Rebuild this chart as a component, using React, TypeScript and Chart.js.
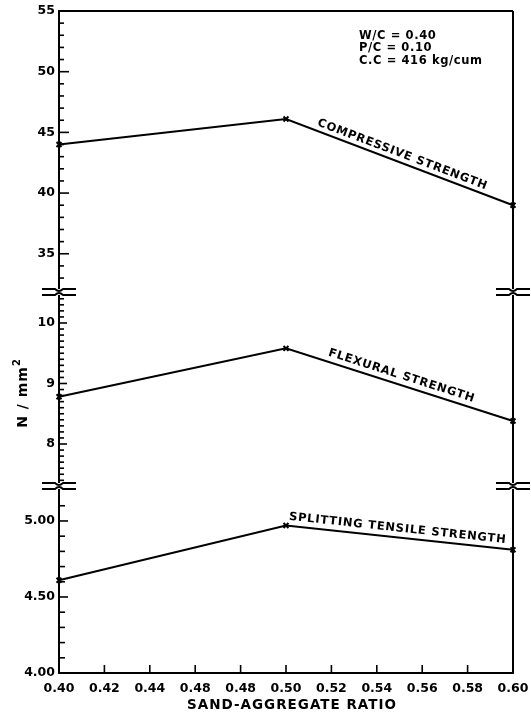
import React, { useEffect, useRef } from "react";
import { Chart, registerables } from "chart.js";

Chart.register(...registerables);

// ---- data ----
const xValues = [0.4, 0.5, 0.6];
const compressive = [44.0, 46.1, 39.0];
const flexural = [8.78, 9.58, 8.38];
const splitting = [4.61, 4.97, 4.81];

const xTickValues = [0.4, 0.42, 0.44, 0.46, 0.48, 0.5, 0.52, 0.54, 0.56, 0.58, 0.6];
const xTickLabels = ["0.40", "0.42", "0.44", "0.48", "0.48", "0.50", "0.52", "0.54", "0.56", "0.58", "0.60"];

const topTickValues = [33, 34, 35, 36, 37, 38, 39, 40, 41, 42, 43, 44, 45, 46, 47, 48, 49, 50, 51, 52, 53, 54, 55];
const topMajor = [35, 40, 45, 50, 55];
const topLabels = ["35", "40", "45", "50", "55"];

const midTickValues = [7.4, 7.5, 7.6, 7.7, 7.8, 7.9, 8.0, 8.1, 8.2, 8.3, 8.4, 8.5, 8.6, 8.7, 8.8, 8.9, 9.0, 9.1, 9.2, 9.3, 9.4, 9.5, 9.6, 9.7, 9.8, 9.9, 10.0, 10.1, 10.2, 10.3, 10.4];
const midMajor = [8, 9, 10];
const midLabels = ["8", "9", "10"];

const botTickValues = [4.0, 4.1, 4.2, 4.3, 4.4, 4.5, 4.6, 4.7, 4.8, 4.9, 5.0, 5.1];
const botMajor = [4.0, 4.5, 5.0];
const botLabels = ["4.00", "4.50", "5.00"];

const noteLines = ["W/C = 0.40", "P/C = 0.10", "C.C = 416 kg/cum"];
const seriesNames = ["COMPRESSIVE STRENGTH", "FLEXURAL STRENGTH", "SPLITTING TENSILE STRENGTH"];
const xTitle = "SAND-AGGREGATE RATIO";

const FONT = "'DejaVu Sans', sans-serif";

const near = (a: number, b: number) => Math.abs(a - b) < 1e-6;
const labelFor = (majors: number[], labels: string[]) => (v: any) => {
  const i = majors.findIndex((m) => near(m, Number(v)));
  return i >= 0 ? labels[i] : "";
};

function yScale(min: number, max: number, ticks: number[], majors: number[], labels: string[], stackWeight: number, weight: number) {
  return {
    type: "linear",
    position: "left",
    stack: "seg",
    stackWeight,
    weight,
    min,
    max,
    afterBuildTicks: (s: any) => {
      s.ticks = ticks.map((v) => ({ value: v }));
    },
    afterFit: (s: any) => {
      s.width = 59;
      s.paddingTop = 0;
      s.paddingBottom = 0;
    },
    grid: { display: true, drawOnChartArea: false, drawTicks: false },
    border: { display: true, color: "#000", width: 2 },
    ticks: {
      autoSkip: false,
      padding: 4,
      color: "#000",
      font: { family: FONT, size: 12.5, weight: "bold" },
      callback: labelFor(majors, labels),
    },
  };
}

const decor = {
  id: "decor",
  afterDraw(chart: any) {
    const ctx = chart.ctx as CanvasRenderingContext2D;
    const { left, right, top, bottom } = chart.chartArea;
    const sx = chart.scales.x;
    const yT = chart.scales.yTop;
    const yM = chart.scales.yMid;
    const yB = chart.scales.yBot;
    const line = (x1: number, y1: number, x2: number, y2: number) => {
      ctx.beginPath();
      ctx.moveTo(x1, y1);
      ctx.lineTo(x2, y2);
      ctx.stroke();
    };
    ctx.save();
    ctx.strokeStyle = "#000";
    ctx.fillStyle = "#000";
    ctx.lineWidth = 2;
    line(left, top, right, top);
    line(right, top, right, bottom);

    // y ticks (inside)
    ctx.lineWidth = 1.6;
    const groups: [any, number[], number, number][] = [
      [yT, topMajor, 10, 5],
      [yM, midMajor, 8, 5],
      [yB, botMajor, 9, 6],
    ];
    for (const [s, majors, ml, nl] of groups) {
      for (const t of s.ticks) {
        const y = s.getPixelForValue(t.value);
        const isMajor = majors.some((m) => near(m, t.value));
        line(left, y, left + (isMajor ? ml : nl), y);
      }
    }
    // x ticks (inside)
    for (const t of sx.ticks) {
      if (t.value <= 0.401 || t.value >= 0.599) continue;
      const x = sx.getPixelForValue(t.value);
      line(x, bottom, x, bottom - 8);
    }

    // axis breaks
    const breaks = [yT.bottom, yM.bottom];
    for (const yb of breaks) {
      for (const xb of [left, right]) {
        ctx.fillStyle = "#fff";
        ctx.fillRect(xb - 3, yb - 3, 6, 6);
        ctx.fillStyle = "#000";
        ctx.lineWidth = 1.8;
        const w = 17;
        ctx.beginPath();
        ctx.moveTo(xb - w, yb - 3);
        ctx.lineTo(xb - 4, yb - 3);
        ctx.quadraticCurveTo(xb, yb + 1, xb + 4, yb - 3);
        ctx.lineTo(xb + w, yb - 3);
        ctx.stroke();
        ctx.beginPath();
        ctx.moveTo(xb - w, yb + 3);
        ctx.lineTo(xb - 4, yb + 3);
        ctx.quadraticCurveTo(xb, yb - 1, xb + 4, yb + 3);
        ctx.lineTo(xb + w, yb + 3);
        ctx.stroke();
      }
    }

    // notes
    ctx.fillStyle = "#000";
    ctx.font = `bold 11.5px ${FONT}`;
    (ctx as any).letterSpacing = "0.6px";
    ctx.textAlign = "left";
    ctx.textBaseline = "middle";
    noteLines.forEach((t, i) => ctx.fillText(t, 359, 36 + i * 12.5));

    // series labels along the segments
    const specs: [string, any, number[], number, number][] = [
      [seriesNames[0], yT, compressive, 31, 5],
      [seriesNames[1], yM, flexural, 42, 6],
      [seriesNames[2], yB, splitting, 2, 6],
    ];
    ctx.font = `bold 11.5px ${FONT}`;
    (ctx as any).letterSpacing = "0.8px";
    ctx.textBaseline = "alphabetic";
    for (const [text, s, d, along, off] of specs) {
      const x1 = sx.getPixelForValue(xValues[1]);
      const y1 = s.getPixelForValue(d[1]);
      const x2 = sx.getPixelForValue(xValues[2]);
      const y2 = s.getPixelForValue(d[2]);
      const a = Math.atan2(y2 - y1, x2 - x1);
      const ux = Math.cos(a), uy = Math.sin(a);
      const px = x1 + ux * along + uy * off;
      const py = y1 + uy * along - ux * off;
      ctx.save();
      ctx.translate(px, py);
      ctx.rotate(a);
      ctx.fillText(text, 0, 0);
      ctx.restore();
    }

    // y title
    ctx.save();
    ctx.translate(22, 393);
    ctx.rotate(-Math.PI / 2);
    (ctx as any).letterSpacing = "1px";
    ctx.font = `bold 14px ${FONT}`;
    ctx.textBaseline = "alphabetic";
    const main = "N / mm";
    const w1 = ctx.measureText(main).width;
    ctx.font = `bold 10px ${FONT}`;
    const w2 = ctx.measureText("2").width;
    const startX = -(w1 + w2) / 2;
    ctx.font = `bold 14px ${FONT}`;
    ctx.fillText(main, startX, 5);
    ctx.font = `bold 10px ${FONT}`;
    ctx.fillText("2", startX + w1, -2);
    ctx.restore();

    // x title
    ctx.font = `bold 13.5px ${FONT}`;
    (ctx as any).letterSpacing = "1px";
    ctx.textAlign = "center";
    ctx.textBaseline = "middle";
    ctx.fillText(xTitle, 292, 705);
    ctx.restore();
  },
};

export default function App() {
  const ref = useRef<HTMLCanvasElement | null>(null);
  useEffect(() => {
    if (!ref.current) return;
    const ds = (data: number[], axis: string) => ({
      data: xValues.map((x, i) => ({ x, y: data[i] })),
      yAxisID: axis,
      borderColor: "#000",
      backgroundColor: "#000",
      borderWidth: 2,
      pointStyle: "crossRot",
      pointRadius: 3.5,
      pointBorderWidth: 2,
      tension: 0,
      clip: false,
    });
    const chart = new Chart(ref.current, {
      type: "line",
      data: {
        datasets: [ds(compressive, "yTop"), ds(flexural, "yMid"), ds(splitting, "yBot")],
      },
      options: {
        animation: false,
        responsive: true,
        maintainAspectRatio: false,
        layout: { padding: { top: 11, right: 18, left: 0, bottom: 0 } },
        plugins: { legend: { display: false }, tooltip: { enabled: false } },
        scales: {
          x: {
            type: "linear",
            position: "bottom",
            min: 0.4,
            max: 0.6,
            afterBuildTicks: (s: any) => {
              s.ticks = xTickValues.map((v) => ({ value: v }));
            },
            afterFit: (s: any) => {
              s.height = 46;
              s.paddingLeft = 0;
              s.paddingRight = 0;
            },
            grid: { display: true, drawOnChartArea: false, drawTicks: false },
            border: { display: true, color: "#000", width: 2 },
            ticks: {
              autoSkip: false,
              maxRotation: 0,
              padding: 8,
              color: "#000",
              font: { family: FONT, size: 12.5, weight: "bold" },
              callback: (v: any) => {
                const i = xTickValues.findIndex((m) => near(m, Number(v)));
                return i >= 0 ? xTickLabels[i] : "";
              },
            },
          },
          yTop: yScale(31.85, 55, topTickValues, topMajor, topLabels, 281, 3),
          yMid: yScale(7.306, 10.512, midTickValues, midMajor, midLabels, 194, 2),
          yBot: yScale(4.0, 5.23, botTickValues, botMajor, botLabels, 187, 1),
        } as any,
      },
      plugins: [decor],
    } as any);
    return () => chart.destroy();
  }, []);
  return (
    <div style={{ position: "fixed", left: 0, top: 0, width: 531, height: 719, background: "#fff" }}>
      <canvas ref={ref} />
    </div>
  );
}
